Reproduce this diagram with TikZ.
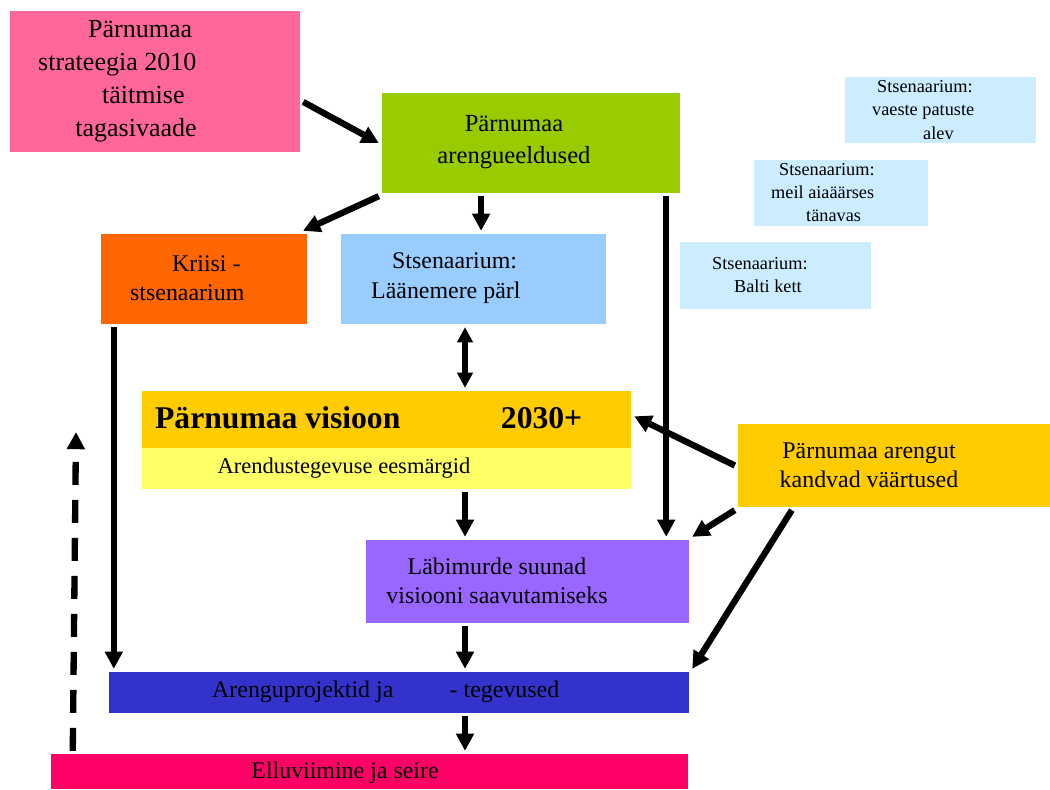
\documentclass[tikz,border=0pt]{standalone}
\usepackage{fontspec}
\setmainfont{Liberation Serif}
\usetikzlibrary{arrows.meta}

\definecolor{strpink}{HTML}{FF6699}
\definecolor{eeldgreen}{HTML}{99CC00}
\definecolor{scenlight}{HTML}{CCECFF}
\definecolor{kriisorange}{HTML}{FF6600}
\definecolor{parlblue}{HTML}{99CCFF}
\definecolor{visgold}{HTML}{FFCC00}
\definecolor{goalyellow}{HTML}{FFFF66}
\definecolor{suunpurple}{HTML}{9966FF}
\definecolor{projblue}{HTML}{3333CC}
\definecolor{seiremagenta}{HTML}{FF0066}

\begin{document}
\begin{tikzpicture}[x=0.025cm,y=-0.025cm,->,>={Triangle[length=0.43cm,width=0.43cm]},
                    line width=4.5pt]
  \tikzstyle{box}=[rectangle,inner sep=0pt,draw=none]
  \tikzstyle{txt}=[inner sep=0pt,text=black,align=left,anchor=west]
  \tikzstyle{big}=[font=\fontsize{18.5}{23.5}\selectfont]
  \tikzstyle{mid}=[font=\fontsize{17}{21}\selectfont]
  \tikzstyle{small}=[font=\fontsize{13}{16.4}\selectfont]

  \useasboundingbox (0,0) rectangle (1050,789);

  % boxes
  \node[box,fill=strpink,minimum width=7.25cm,minimum height=3.525cm]     (PS) at (155,81.5)   {};
  \node[box,fill=eeldgreen,minimum width=7.45cm,minimum height=2.5cm]     (AE) at (531,143)    {};
  \node[box,fill=scenlight,minimum width=4.775cm,minimum height=1.65cm]   (S1) at (940.5,110)  {};
  \node[box,fill=scenlight,minimum width=4.35cm,minimum height=1.65cm]    (S2) at (841,193)    {};
  \node[box,fill=scenlight,minimum width=4.775cm,minimum height=1.675cm]  (S3) at (775.5,275.5) {};
  \node[box,fill=kriisorange,minimum width=5.15cm,minimum height=2.25cm]  (KS) at (204,279)    {};
  \node[box,fill=parlblue,minimum width=6.625cm,minimum height=2.25cm]    (LP) at (473.5,279)  {};
  \node[box,fill=visgold,minimum width=12.225cm,minimum height=1.425cm]   (V)  at (386.5,419.5) {};
  \node[box,fill=goalyellow,minimum width=12.225cm,minimum height=1.025cm] (E) at (386.5,468.5) {};
  \node[box,fill=visgold,minimum width=7.8cm,minimum height=2.075cm]      (VA) at (894,465.5)  {};
  \node[box,fill=suunpurple,minimum width=8.075cm,minimum height=2.075cm] (LS) at (527.5,581.5) {};
  \node[box,fill=projblue,minimum width=14.5cm,minimum height=1.025cm]    (AP) at (399,692.5)  {};
  \node[box,fill=seiremagenta,minimum width=15.925cm,minimum height=0.875cm] (ES) at (369.5,771.5) {};

  % texts
  \node[txt,big] (PSt) at (35,81)
    {\hspace*{1.25cm}Pärnumaa\\strateegia 2010\\\hspace*{1.6cm}täitmise\\\hspace*{0.93cm}tagasivaade};
  \node[txt,align=center,anchor=center,font=\fontsize{17.5}{22.8}\selectfont] (AEt) at (514,142)
    {Pärnumaa\\arengueeldused};
  \node[txt,small] (S1t) at (869,110) {\hspace*{0.125cm}Stsenaarium:\\vaeste patuste\\\hspace*{1.275cm}alev};
  \node[txt,small] (S2t) at (768,192.5) {\hspace*{0.2cm}Stsenaarium:\\meil aiaäärses\\\hspace*{0.875cm}tänavas};
  \node[txt,small,font=\fontsize{13}{17}\selectfont] (S3t) at (709,275) {Stsenaarium:\\\hspace*{0.55cm}Balti kett};
  \node[txt,mid] (KSt) at (127,278) {\hspace*{1.05cm}Kriisi -\\stsenaarium};
  \node[txt,mid] (LPt) at (368,278) {\hspace*{0.525cm}Stsenaarium:\\Läänemere pärl};
  \node[txt,font=\fontsize{22.5}{27}\selectfont\bfseries] (Vt) at (152,418)
    {\makebox[10.675cm]{Pärnumaa visioon\hfill 2030+}};
  \node[txt,font=\fontsize{16}{19}\selectfont,anchor=center] (Et) at (344,468) {Arendustegevuse eesmärgid};
  \node[txt,align=center,anchor=center,font=\fontsize{17}{20.6}\selectfont] (VAt) at (869,465)
    {Pärnumaa arengut\\kandvad väärtused};
  \node[txt,align=center,anchor=center,font=\fontsize{17}{20.6}\selectfont] (LSt) at (497,581)
    {Läbimurde suunad\\visiooni saavutamiseks};
  \node[txt,mid] (APt) at (209,692) {\makebox[8.675cm]{Arenguprojektid ja\hfill- tegevused}};
  \node[txt,mid,anchor=center] (ESt) at (345,773) {Elluviimine ja seire};

  % helper points
  \coordinate (mid) at (465,0);
  \coordinate (dashtop) at (76,432);

  \path ([yshift=-0.51cm]PS.east) edge (AE.west)
        (AE.south west) edge ([xshift=-0.18cm]KS.north east)
        ([xshift=0.19cm]LP.north |- AE.south) edge ([xshift=0.19cm]LP.north)
        ([xshift=-0.65cm]LS.north east |- AE.south) edge ([xshift=-0.65cm]LS.north east)
        (mid |- LP.south) edge[{Triangle[length=0.38cm,width=0.38cm]}-{Triangle[length=0.38cm,width=0.38cm]}] (mid |- V.north)
        (mid |- E.south) edge (mid |- LS.north)
        (mid |- LS.south) edge (mid |- AP.north)
        (mid |- AP.south) edge (mid |- ES.north)
        ([xshift=0.4cm]KS.south west) edge ([xshift=0.4cm]KS.south west |- AP.north)
        (VA.west) edge ([yshift=0.08cm]V.east)
        (VA.south west) edge (LS.north east)
        ([xshift=1.425cm]VA.south west) edge (AP.north east)
        ([xshift=0.625cm]ES.north west) edge[dash pattern=on 0.575cm off 0.375cm] (dashtop);
\end{tikzpicture}
\end{document}
